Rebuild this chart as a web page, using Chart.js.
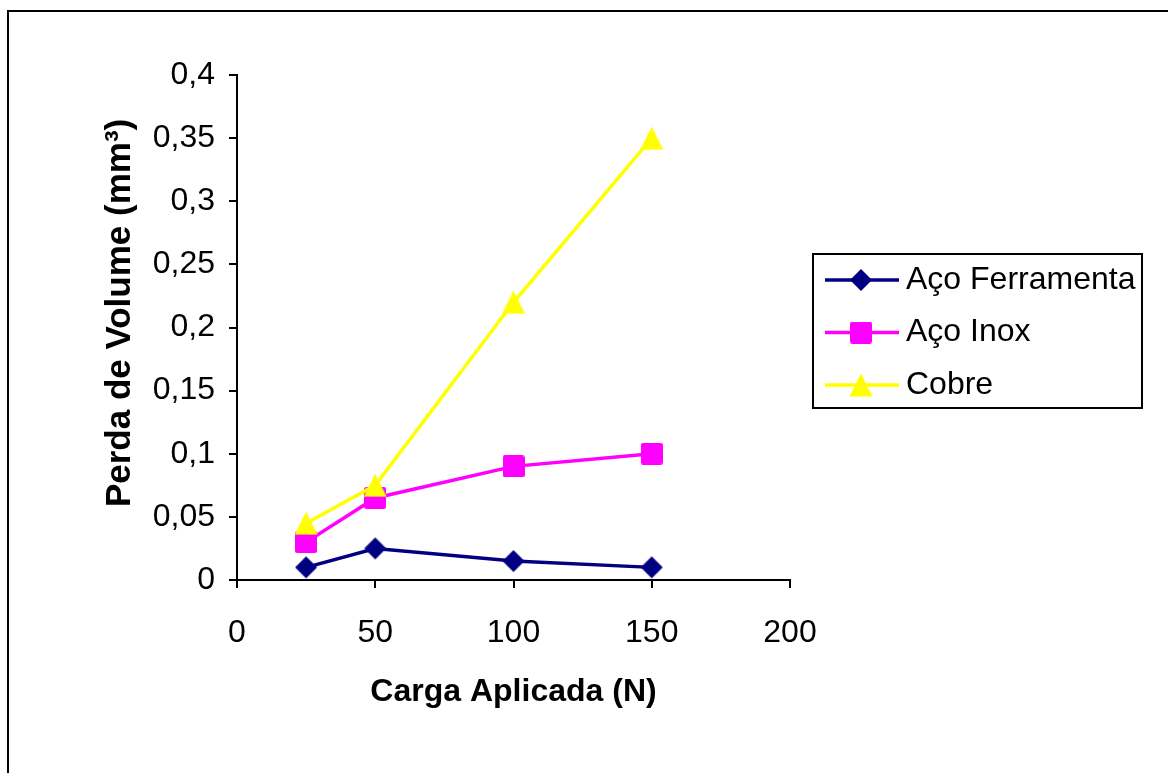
<!DOCTYPE html>
<html>
<head>
<meta charset="utf-8">
<script src="https://cdn.jsdelivr.net/npm/chart.js@4.4.1/dist/chart.umd.min.js"></script>
<style>
  html, body { margin: 0; padding: 0; background: #ffffff; }
  #wrap { width: 1168px; height: 773px; position: relative; overflow: hidden; }
  canvas { display: block; }
</style>
</head>
<body>
<div id="wrap"><canvas id="c" width="1168" height="773"></canvas></div>
<script>
// ---- data ----
const loads = [25, 50, 100, 150];                 // Carga Aplicada (N)
const acoFerramenta = [0.01, 0.025, 0.015, 0.01];  // Perda de Volume (mm³)
const acoInox = [0.03, 0.065, 0.09, 0.1];
const cobre = [0.045, 0.075, 0.22, 0.35];
const seriesNames = ['Aço Ferramenta', 'Aço Inox', 'Cobre'];
const xTicks = [0, 50, 100, 150, 200];
const xTickLabels = ['0', '50', '100', '150', '200'];
const yTicks = [0, 0.05, 0.1, 0.15, 0.2, 0.25, 0.3, 0.35, 0.4];
const yTickLabels = ['0', '0,05', '0,1', '0,15', '0,2', '0,25', '0,3', '0,35', '0,4'];
const xTitle = 'Carga Aplicada (N)';
const yTitle = 'Perda de Volume (mm³)';

// ---- styles ----
const FONT = '"Liberation Sans", Arial, Helvetica, sans-serif';
const NAVY = '#000080', MAGENTA = '#FF00FF', YELLOW = '#FFFF00';
const LINE_W = 3.5;

function makeMarker(kind, color) {
  const c = document.createElement('canvas');
  const s = kind === 'square' ? 22 : 24;
  c.width = s; c.height = s;
  const g = c.getContext('2d');
  g.fillStyle = color;
  g.beginPath();
  if (kind === 'diamond') {
    g.moveTo(12, 1); g.lineTo(23, 12); g.lineTo(12, 23); g.lineTo(1, 12);
  } else if (kind === 'square') {
    const r = 2.5;
    g.moveTo(r, 0); g.lineTo(s - r, 0); g.quadraticCurveTo(s, 0, s, r);
    g.lineTo(s, s - r); g.quadraticCurveTo(s, s, s - r, s);
    g.lineTo(r, s); g.quadraticCurveTo(0, s, 0, s - r);
    g.lineTo(0, r); g.quadraticCurveTo(0, 0, r, 0);
  } else {
    g.moveTo(12, 0.5); g.lineTo(23.5, 23.5); g.lineTo(0.5, 23.5);
  }
  g.closePath();
  g.fill();
  return c;
}

const markers = [makeMarker('diamond', NAVY), makeMarker('square', MAGENTA), makeMarker('triangle', YELLOW)];
const colors = [NAVY, MAGENTA, YELLOW];
const seriesValues = [acoFerramenta, acoInox, cobre];

const datasets = seriesValues.map((vals, i) => ({
  label: seriesNames[i],
  data: loads.map((x, j) => ({ x: x, y: vals[j] })),
  borderColor: colors[i],
  backgroundColor: colors[i],
  borderWidth: LINE_W,
  pointStyle: markers[i],
  pointRadius: 11,
  pointHoverRadius: 11,
  showLine: true,
  fill: false,
  tension: 0,
  order: 3 - i
}));

const framePlugin = {
  id: 'frame',
  beforeDraw(chart) {
    const ctx = chart.ctx;
    ctx.save();
    ctx.fillStyle = '#ffffff';
    ctx.fillRect(0, 0, chart.width, chart.height);
    ctx.strokeStyle = '#000000';
    ctx.lineWidth = 2;
    ctx.strokeRect(8, 11, 1200, 800);
    ctx.restore();
  }
};

const legendPlugin = {
  id: 'boxLegend',
  afterDraw(chart) {
    const ctx = chart.ctx;
    ctx.save();
    ctx.strokeStyle = '#000000';
    ctx.lineWidth = 2;
    ctx.strokeRect(813, 254, 329, 154);
    ctx.font = '32px ' + FONT;
    ctx.textBaseline = 'middle';
    ctx.textAlign = 'left';
    chart.data.datasets.forEach((ds, i) => {
      const y = 280 + i * 52.5;
      ctx.strokeStyle = ds.borderColor;
      ctx.lineWidth = LINE_W;
      ctx.beginPath();
      ctx.moveTo(825, y);
      ctx.lineTo(899, y);
      ctx.stroke();
      const m = ds.pointStyle;
      ctx.drawImage(m, 861 - m.width / 2, y - m.height / 2);
      ctx.fillStyle = '#000000';
      ctx.fillText(ds.label, 906, y);
    });
    ctx.restore();
  }
};

new Chart(document.getElementById('c'), {
  type: 'scatter',
  data: { datasets: datasets },
  plugins: [framePlugin, legendPlugin],
  options: {
    responsive: false,
    animation: false,
    devicePixelRatio: 1,
    events: [],
    layout: { padding: { left: 0, top: 75, right: 378, bottom: 0 } },
    plugins: { legend: { display: false }, tooltip: { enabled: false } },
    scales: {
      x: {
        type: 'linear',
        position: 'bottom',
        min: 0,
        max: 200,
        afterBuildTicks(s) { s.ticks = xTicks.map(v => ({ value: v })); },
        afterFit(s) { s.height = 193; },
        ticks: {
          color: '#000000',
          font: { family: FONT, size: 32 },
          padding: 26,
          maxRotation: 0,
          autoSkip: false,
          callback: (v) => xTickLabels[xTicks.indexOf(v)]
        },
        grid: { drawOnChartArea: false, drawTicks: true, tickLength: 8, color: '#000000', lineWidth: 2 },
        border: { display: true, color: '#000000', width: 2 },
        title: {
          display: true,
          text: xTitle,
          color: '#000000',
          font: { family: FONT, size: 32, weight: 'bold' },
          padding: { top: 0, bottom: 62 }
        }
      },
      y: {
        type: 'linear',
        position: 'left',
        min: 0,
        max: 0.4,
        afterBuildTicks(s) { s.ticks = yTicks.map(v => ({ value: v })); },
        afterFit(s) { s.width = 237; },
        ticks: {
          color: '#000000',
          font: { family: FONT, size: 32 },
          padding: 14,
          autoSkip: false,
          callback: (v) => yTickLabels[yTicks.indexOf(v)]
        },
        grid: { drawOnChartArea: false, drawTicks: true, tickLength: 8, color: '#000000', lineWidth: 2 },
        border: { display: true, color: '#000000', width: 2 },
        title: {
          display: true,
          text: '   ' + yTitle,
          color: '#000000',
          font: { family: FONT, size: 35, weight: 'bold' },
          padding: { top: 99, bottom: 0 }
        }
      }
    }
  }
});
</script>
</body>
</html>
